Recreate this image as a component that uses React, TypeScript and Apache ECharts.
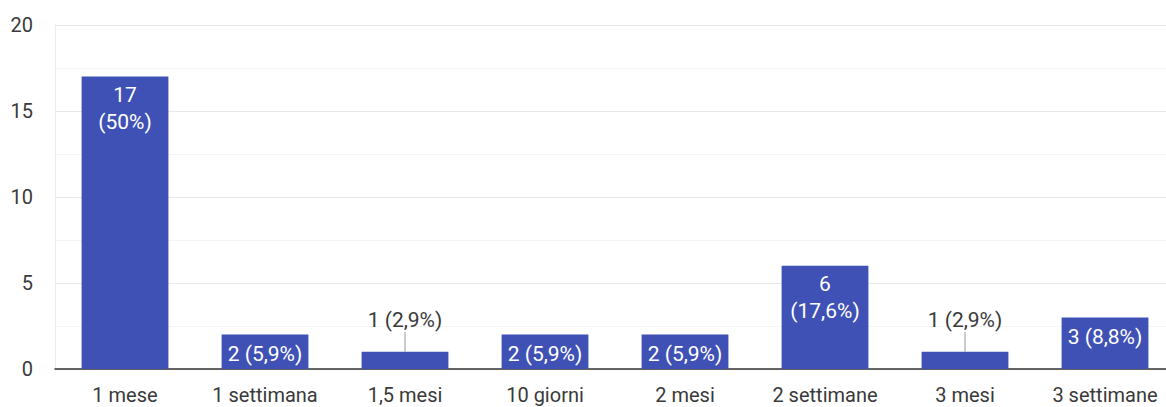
import React, { useEffect, useRef } from "react";
import * as echarts from "echarts";

const categories = ["1 mese", "1 settimana", "1,5 mesi", "10 giorni", "2 mesi", "2 settimane", "3 mesi", "3 settimane"];
const counts = [17, 2, 1, 2, 2, 6, 1, 3];
const percents = ["50%", "5,9%", "2,9%", "5,9%", "5,9%", "17,6%", "2,9%", "8,8%"];
const yTicks = [0, 5, 10, 15, 20];

const BAR = "#3f51b5";
const TEXT = "#3a3a3a";
const FONT = "Roboto";

export default function App() {
  const ref = useRef<HTMLDivElement>(null);
  useEffect(() => {
    document.body.style.margin = "0";
    document.body.style.overflow = "hidden";
    if (!ref.current) return;
    const chart = echarts.init(ref.current, null, { renderer: "svg" });
    const barData = counts.map((v, i) => {
      let label: any;
      if (v >= 5) {
        label = { show: true, position: "insideTop", distance: 5, color: "#fff", lineHeight: 27, formatter: `${v}\n(${percents[i]})` };
      } else if (v >= 2) {
        label = { show: true, position: "insideTop", distance: 6, color: "#fff", lineHeight: 27, formatter: `${v} (${percents[i]})` };
      } else {
        label = { show: true, position: "top", distance: 20, color: TEXT, lineHeight: 24, formatter: `${v} (${percents[i]})` };
      }
      return { value: v, label };
    });
    chart.setOption({
      animation: false,
      textStyle: { fontFamily: FONT },
      grid: { left: 55, right: 0, top: 25, bottom: 38 },
      xAxis: {
        type: "category",
        data: categories,
        axisTick: { show: false },
        axisLine: { lineStyle: { color: "#333", width: 1.5 } },
        axisLabel: { color: TEXT, fontSize: 20, lineHeight: 22, margin: 15, fontFamily: FONT, interval: 0 },
      },
      yAxis: {
        type: "value",
        min: yTicks[0],
        max: yTicks[yTicks.length - 1],
        interval: 5,
        axisLine: { show: true, lineStyle: { color: "#ececec" } },
        axisTick: { show: false },
        axisLabel: { color: TEXT, fontSize: 20, margin: 22, fontFamily: FONT },
        splitLine: { lineStyle: { color: "#e8e8e8" } },
        minorTick: { show: false, splitNumber: 2 },
        minorSplitLine: { show: true, lineStyle: { color: "#f4f4f4" } },
      },
      series: [
        {
          type: "bar",
          data: barData,
          barCategoryGap: "38%",
          itemStyle: { color: BAR },
          label: { fontSize: 21, fontFamily: FONT },
          z: 2,
        },
        {
          type: "custom",
          data: counts.map((v, i) => [i, v]),
          z: 3,
          renderItem: (params: any, api: any) => {
            const v = api.value(1);
            if (v >= 2) return null;
            const p = api.coord([api.value(0), v]);
            return {
              type: "line",
              shape: { x1: p[0], y1: p[1], x2: p[0], y2: p[1] - 20 },
              style: { stroke: "#999", lineWidth: 1 },
            };
          },
        },
      ],
    });
    return () => chart.dispose();
  }, []);
  return (
    <div style={{ width: 1166, height: 407, overflow: "hidden" }}>
      <div ref={ref} style={{ width: 1175, height: 407 }} />
    </div>
  );
}
